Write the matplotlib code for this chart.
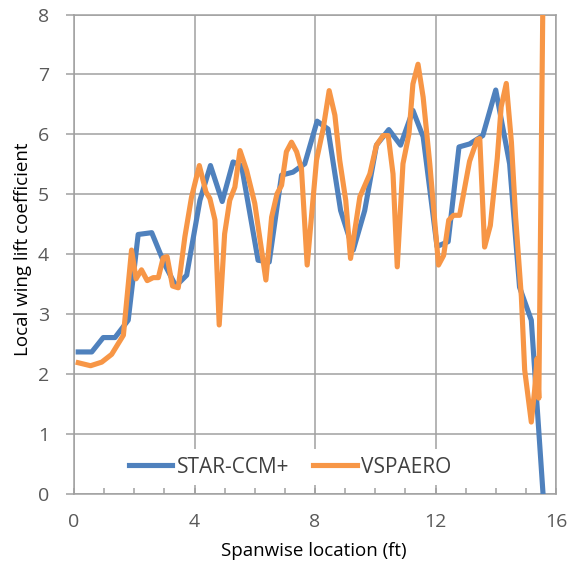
import matplotlib
matplotlib.use("Agg")
import matplotlib.pyplot as plt
from matplotlib.ticker import MultipleLocator

star_x = [0.14, 0.59, 0.97, 1.36, 1.8, 2.13, 2.58, 3.02, 3.38, 3.74, 4.18, 4.53, 4.92, 5.28,
          5.56, 6.11, 6.48, 6.89, 7.27, 7.66, 8.07, 8.43, 8.85, 9.27, 9.65, 10.04, 10.45,
          10.84, 11.25, 11.59, 12.05, 12.42, 12.78, 13.13, 13.57, 14.0, 14.46, 14.79, 15.18, 15.57]
star_y = [2.37, 2.37, 2.61, 2.61, 2.9, 4.33, 4.36, 3.82, 3.47, 3.65, 4.9, 5.48, 4.88, 5.54,
          5.48, 3.9, 3.87, 5.32, 5.37, 5.51, 6.22, 6.09, 4.73, 4.07, 4.73, 5.82, 6.08,
          5.82, 6.4, 5.96, 4.13, 4.21, 5.79, 5.84, 5.98, 6.74, 5.51, 3.45, 2.9, 0.0]

vsp_x = [0.14, 0.55, 0.92, 1.25, 1.64, 1.91, 2.06, 2.24, 2.43, 2.63, 2.80, 2.96, 3.09, 3.27,
         3.46, 3.68, 3.90, 4.16, 4.38, 4.51, 4.68, 4.82, 5.0, 5.17, 5.34, 5.51, 5.73, 6.0,
         6.37, 6.56, 6.74, 6.89, 7.05, 7.22, 7.39, 7.55, 7.74, 8.05, 8.27, 8.47, 8.66, 8.82,
         9.02, 9.18, 9.49, 9.82, 10.04, 10.26, 10.43, 10.59, 10.73, 10.92, 11.12, 11.25,
         11.42, 11.59, 11.81, 12.1, 12.27, 12.44, 12.6, 12.8, 13.13, 13.38, 13.47, 13.63,
         13.82, 14.05, 14.18, 14.35, 14.52, 14.66, 14.85, 14.96, 15.18, 15.29, 15.37, 15.43, 15.6]
vsp_y = [2.19, 2.14, 2.2, 2.33, 2.65, 4.07, 3.59, 3.74, 3.56, 3.61, 3.61, 3.94, 3.96, 3.47,
         3.44, 4.29, 4.95, 5.48, 5.04, 4.93, 4.57, 2.82, 4.34, 4.9, 5.12, 5.73, 5.4, 4.85,
         3.57, 4.62, 5.01, 5.15, 5.71, 5.87, 5.71, 5.43, 3.82, 5.57, 6.09, 6.73, 6.32, 5.57,
         4.9, 3.93, 4.96, 5.34, 5.82, 5.98, 5.98, 5.34, 3.79, 5.51, 6.01, 6.84,
         7.17, 6.62, 5.51, 3.82, 3.98, 4.57, 4.65, 4.65, 5.55, 5.91, 5.93, 4.12,
         4.48, 5.6, 6.46, 6.85, 5.87, 4.62, 3.29, 2.07, 1.2, 1.73, 2.26, 1.6, 10.0]

x_ticks = [0, 4, 8, 12, 16]
y_ticks = [0, 1, 2, 3, 4, 5, 6, 7, 8]

plt.rcParams['font.family'] = ['Open Sans', 'DejaVu Sans']

fig = plt.figure(figsize=(5.78, 5.75), dpi=100)
ax = fig.add_axes([74/578, 1-494/575, (556-74)/578, (494-14.5)/575])

grid_c = '#a0a0a0'
blue = '#4F81BD'
orange = '#F79646'

ax.plot(star_x, star_y, color=blue, lw=3.7, label='STAR-CCM+', zorder=3,
        solid_joinstyle='round')
ax.plot(vsp_x, vsp_y, color=orange, lw=3.7, label='VSPAERO', zorder=4,
        solid_joinstyle='round')

ax.set_xlim(0, 16)
ax.set_ylim(0, 8)
ax.set_xticks(x_ticks)
ax.set_yticks(y_ticks)
ax.xaxis.set_minor_locator(MultipleLocator(1))
ax.grid(True, which='major', color=grid_c, lw=1.1, zorder=0)

for s in ax.spines.values():
    s.set_color(grid_c)
    s.set_linewidth(1.1)

ax.tick_params(axis='x', which='both', direction='in', length=4, color=grid_c,
               width=1.1, labelsize=14, labelcolor='#595959', pad=14)
ax.tick_params(axis='y', which='major', direction='out', length=6, color=grid_c,
               width=1.1, labelsize=14, labelcolor='#595959', pad=12)

ax.set_xlabel('Spanwise location (ft)', fontsize=13.5, color='#000000')
ax.set_ylabel('Local wing lift coefficient', fontsize=13.5, color='#000000')
ax.xaxis.set_label_coords(0.498, -0.1)
ax.yaxis.set_label_coords(-0.088, 0.511)

leg = ax.legend(loc='center', bbox_to_anchor=(0.448, 0.056), ncol=2, frameon=True,
                fancybox=False, facecolor='white', edgecolor='none', framealpha=1,
                fontsize=15, handlelength=2.1, handletextpad=0.2, columnspacing=1.15,
                borderpad=0.35, borderaxespad=0)
for t in leg.get_texts():
    t.set_color('#404040')
leg.set_zorder(5)

fig.savefig('out.png', dpi=100, facecolor='white')
